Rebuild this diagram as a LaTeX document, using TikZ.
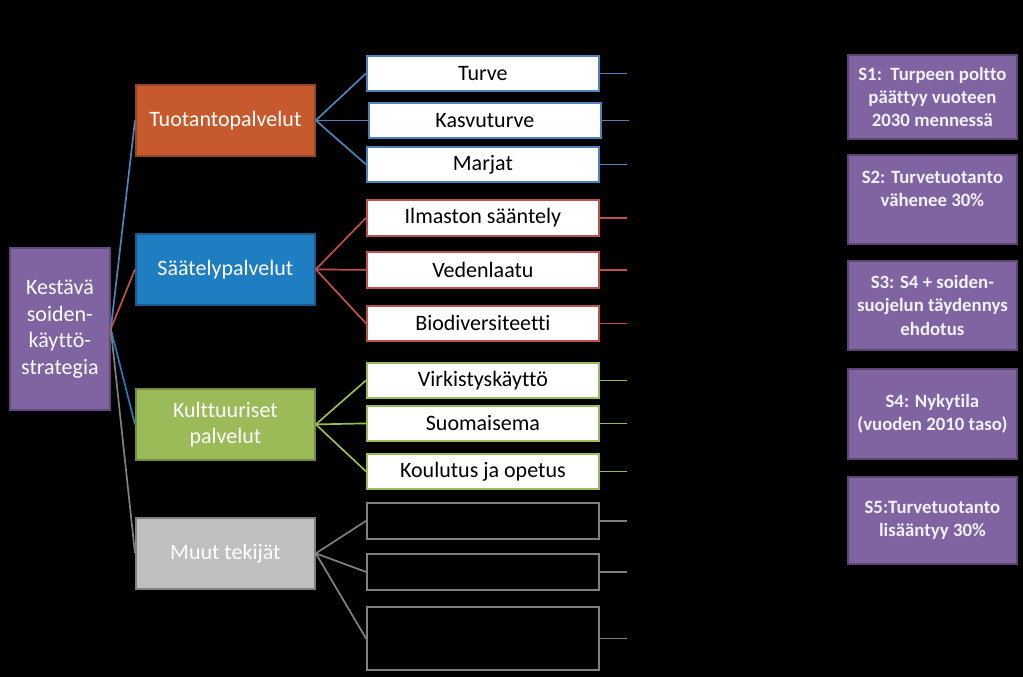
\documentclass[tikz,border=0pt]{standalone}
\usepackage{fontspec}
\setmainfont[Ligatures={NoCommon}]{Carlito}
\definecolor{rootfill}{RGB}{128,100,162}
\definecolor{rootline}{RGB}{96,74,123}
\definecolor{orangefill}{RGB}{198,90,44}
\definecolor{orangeline}{RGB}{150,70,40}
\definecolor{bluefill}{RGB}{31,125,193}
\definecolor{blueline}{RGB}{28,90,140}
\definecolor{greenfill}{RGB}{155,187,89}
\definecolor{greenline}{RGB}{115,140,65}
\definecolor{grayfill}{RGB}{191,191,191}
\definecolor{grayline}{RGB}{128,128,128}
\definecolor{cblue}{RGB}{79,129,189}
\definecolor{cred}{RGB}{192,80,77}
\definecolor{cgreen}{RGB}{155,187,89}
\definecolor{cgray}{RGB}{128,128,128}
\definecolor{scfill}{RGB}{128,100,162}
\definecolor{scline}{RGB}{90,70,115}
\definecolor{sctext}{RGB}{242,240,248}
\tikzset{
  box/.style={draw, line width=1.8pt, inner sep=0pt, anchor=north west},
  catbox/.style={box, text=white, font=\fontsize{22}{26.5}\selectfont, align=center},
  childbox/.style={box, fill=white, text=black, font=\fontsize{22}{26}\selectfont},
  emptybox/.style={box, draw=cgray, fill=black},
  scfont/.style={font=\bfseries\fontsize{18.8}{23.3}\selectfont},
  scbox/.style={box, fill=scfill, draw=scline, text=sctext, scfont, align=center},
  conn/.style={line width=1.7pt},
}
\begin{document}
\begin{tikzpicture}[x=1pt,y=-1pt]
\fill[black] (0,0) rectangle (1023,677);
\useasboundingbox (0,0) rectangle (1023,677);

% root
\node[catbox, fill=rootfill, draw=rootline, minimum width=100pt, minimum height=162pt] (root) at (9,247) {Kestävä\\soiden-\\käyttö-\\strategia};

% categories
\node[catbox, fill=orangefill, draw=orangeline, minimum width=179pt, minimum height=71pt] (tuo) at (135,84) {Tuotantopalvelut};
\node[catbox, fill=bluefill, draw=blueline, minimum width=179pt, minimum height=71pt] (saa) at (135,233) {Säätelypalvelut};
\node[catbox, fill=greenfill, draw=greenline, minimum width=179pt, minimum height=71pt] (kul) at (135,388) {Kulttuuriset\\palvelut};
\node[catbox, fill=grayfill, draw=grayline, minimum width=179pt, minimum height=71pt] (muu) at (135,517) {Muut tekijät};

% children
\node[childbox, draw=cblue, minimum width=232pt, minimum height=35pt] (c1) at (366,55) {Turve};
\node[childbox, draw=cblue, minimum width=232pt, minimum height=35pt] (c2) at (368,102) {Kasvuturve};
\node[childbox, draw=cblue, minimum width=232pt, minimum height=35pt] (c3) at (366,146) {Marjat};
\node[childbox, draw=cred, minimum width=232pt, minimum height=36pt] (c4) at (366,199) {Ilmaston sääntely};
\node[childbox, draw=cred, minimum width=232pt, minimum height=36pt] (c5) at (366,251) {Vedenlaatu};
\node[childbox, draw=cred, minimum width=232pt, minimum height=35pt] (c6) at (366,305) {Biodiversiteetti};
\node[childbox, draw=cgreen, minimum width=232pt, minimum height=35pt] (c7) at (366,362) {Virkistyskäyttö};
\node[childbox, draw=cgreen, minimum width=232pt, minimum height=35pt] (c8) at (366,405) {Suomaisema};
\node[childbox, draw=cgreen, minimum width=232pt, minimum height=35pt] (c9) at (366,453) {Koulutus ja opetus};
\node[emptybox, minimum width=232pt, minimum height=36pt] (c10) at (366,502) {};
\node[emptybox, minimum width=232pt, minimum height=36pt] (c11) at (366,553) {};
\node[emptybox, minimum width=232pt, minimum height=63pt] (c12) at (366,606) {};

% stub end points
\foreach \i in {1,...,12} { \coordinate (e\i) at ([xshift=27pt]c\i.east); }

% root connectors
\draw[conn, cblue] (root.east) -- (tuo.west);
\draw[conn, cred] (root.east) -- (saa.west);
\draw[conn, bluefill] (root.east) -- (kul.west);
\draw[conn, cgray] (root.east) -- (muu.west);

% category to child
\foreach \c in {1,2,3} { \draw[conn, cblue] (tuo.east) -- (c\c.west); \draw[conn, cblue] (c\c.east) -- (e\c); }
\foreach \c in {4,5,6} { \draw[conn, cred] (saa.east) -- (c\c.west); \draw[conn, cred] (c\c.east) -- (e\c); }
\foreach \c in {7,8,9} { \draw[conn, cgreen] (kul.east) -- (c\c.west); \draw[conn, cgreen] (c\c.east) -- (e\c); }
\foreach \c in {10,11,12} { \draw[conn, cgray] (muu.east) -- (c\c.west); \draw[conn, cgray] (c\c.east) -- (e\c); }

% scenarios
\node[scbox, minimum width=169pt, minimum height=84pt] (s1) at (847,54) {S1:\ \ Turpeen poltto\\päättyy vuoteen\\2030 mennessä};
\node[scbox, minimum width=169pt, minimum height=89pt] (s2) at (847,154) {};
\node[text=sctext, scfont, align=center, anchor=north, inner sep=0pt] (s2t) at ([yshift=-17pt]s2.north) {S2: Turvetuotanto\\vähenee 30\%};
\node[scbox, minimum width=169pt, minimum height=89pt] (s3) at (847,260) {S3: S4 + soiden-\\suojelun täydennys\\ehdotus};
\node[scbox, minimum width=169pt, minimum height=90pt] (s4) at (847,368) {S4: Nykytila\\(vuoden 2010 taso)};
\node[scbox, minimum width=169pt, minimum height=87pt] (s5) at (847,476) {S5:Turvetuotanto\\lisääntyy 30\%};
\end{tikzpicture}
\end{document}
